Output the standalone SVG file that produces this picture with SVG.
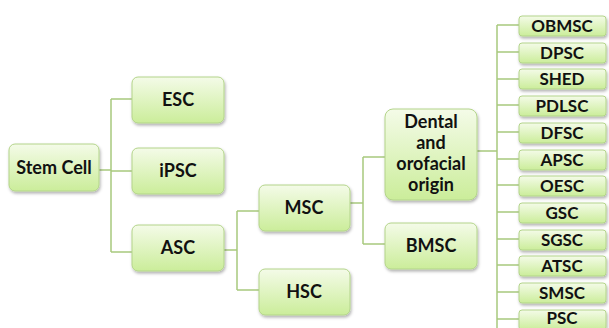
<svg xmlns="http://www.w3.org/2000/svg" width="609" height="328" viewBox="0 0 609 328">
<defs>
<linearGradient id="g" x1="0" y1="0" x2="0" y2="1">
<stop offset="0" stop-color="#f4fbe8"/>
<stop offset="1" stop-color="#cbed9a"/>
</linearGradient>
<filter id="sh" x="-10%" y="-10%" width="125%" height="140%">
<feDropShadow dx="1" dy="2" stdDeviation="1.5" flood-color="#000" flood-opacity="0.3"/>
</filter>
</defs>
<style>
.b{fill:url(#g);stroke:#b3d48a;stroke-width:1;filter:url(#sh)}
.t{font-family:Lato,"Open Sans",sans-serif;font-weight:bold;font-size:18px;fill:#111;text-anchor:middle}
.s{font-size:17px}
.c{fill:none;stroke:#a8c97d;stroke-width:1.5}
</style>
<rect width="609" height="328" fill="#fff"/>
<g id="connectors" class="c">
<path d="M99 170H111M111 99V252M111 99H132M111 171H132M111 252H132"/>
<path d="M224 250H237M237 211V290M237 211H259M237 290H259"/>
<path d="M350 203H363M363 157V244M363 157H385M363 244H385"/>
<path d="M477 151H497M497 25V328"/>
<path d="M497 25H519M497 52H519M497 79H519M497 105H519M497 132H519M497 159H519M497 185H519M497 212H519M497 239H519M497 265H519M497 292H519M497 319H519"/>
</g>
<g id="stemcell"><rect class="b" x="9" y="144" width="90" height="47" rx="6"/><text class="t" x="54" y="174">Stem Cell</text></g>
<g id="esc"><rect class="b" x="132" y="77" width="92" height="46" rx="6"/><text class="t" x="178" y="106">ESC</text></g>
<g id="ipsc"><rect class="b" x="132" y="148" width="92" height="46" rx="6"/><text class="t" x="178" y="177">iPSC</text></g>
<g id="asc"><rect class="b" x="132" y="225" width="92" height="46" rx="6"/><text class="t" x="178" y="254">ASC</text></g>
<g id="msc"><rect class="b" x="259" y="185" width="91" height="46" rx="6"/><text class="t" x="304" y="214">MSC</text></g>
<g id="hsc"><rect class="b" x="259" y="269" width="91" height="46" rx="6"/><text class="t" x="304" y="298">HSC</text></g>
<g id="dental"><rect class="b" x="385" y="109" width="92" height="91" rx="8"/>
<text class="t" x="431" y="128">Dental</text><text class="t" x="431" y="149">and</text><text class="t" x="431" y="170">orofacial</text><text class="t" x="431" y="191">origin</text></g>
<g id="bmsc"><rect class="b" x="385" y="223" width="92" height="46" rx="6"/><text class="t" x="431" y="252">BMSC</text></g>
<g id="obmsc"><rect class="b" x="519" y="16" width="87" height="20" rx="3"/><text class="t s" x="562" y="32">OBMSC</text></g>
<g id="dpsc"><rect class="b" x="519" y="43" width="87" height="20" rx="3"/><text class="t s" x="562" y="59">DPSC</text></g>
<g id="shed"><rect class="b" x="519" y="69" width="87" height="20" rx="3"/><text class="t s" x="562" y="85">SHED</text></g>
<g id="pdlsc"><rect class="b" x="519" y="96" width="87" height="20" rx="3"/><text class="t s" x="562" y="112">PDLSC</text></g>
<g id="dfsc"><rect class="b" x="519" y="123" width="87" height="20" rx="3"/><text class="t s" x="562" y="139">DFSC</text></g>
<g id="apsc"><rect class="b" x="519" y="150" width="87" height="20" rx="3"/><text class="t s" x="562" y="166">APSC</text></g>
<g id="oesc"><rect class="b" x="519" y="176" width="87" height="20" rx="3"/><text class="t s" x="562" y="192">OESC</text></g>
<g id="gsc"><rect class="b" x="519" y="203" width="87" height="20" rx="3"/><text class="t s" x="562" y="219">GSC</text></g>
<g id="sgsc"><rect class="b" x="519" y="230" width="87" height="20" rx="3"/><text class="t s" x="562" y="246">SGSC</text></g>
<g id="atsc"><rect class="b" x="519" y="256" width="87" height="20" rx="3"/><text class="t s" x="562" y="272">ATSC</text></g>
<g id="smsc"><rect class="b" x="519" y="283" width="87" height="20" rx="3"/><text class="t s" x="562" y="299">SMSC</text></g>
<g id="psc"><rect class="b" x="519" y="310" width="87" height="20" rx="3"/><text class="t s" x="562" y="324" font-size="16">PSC</text></g>
</svg>
